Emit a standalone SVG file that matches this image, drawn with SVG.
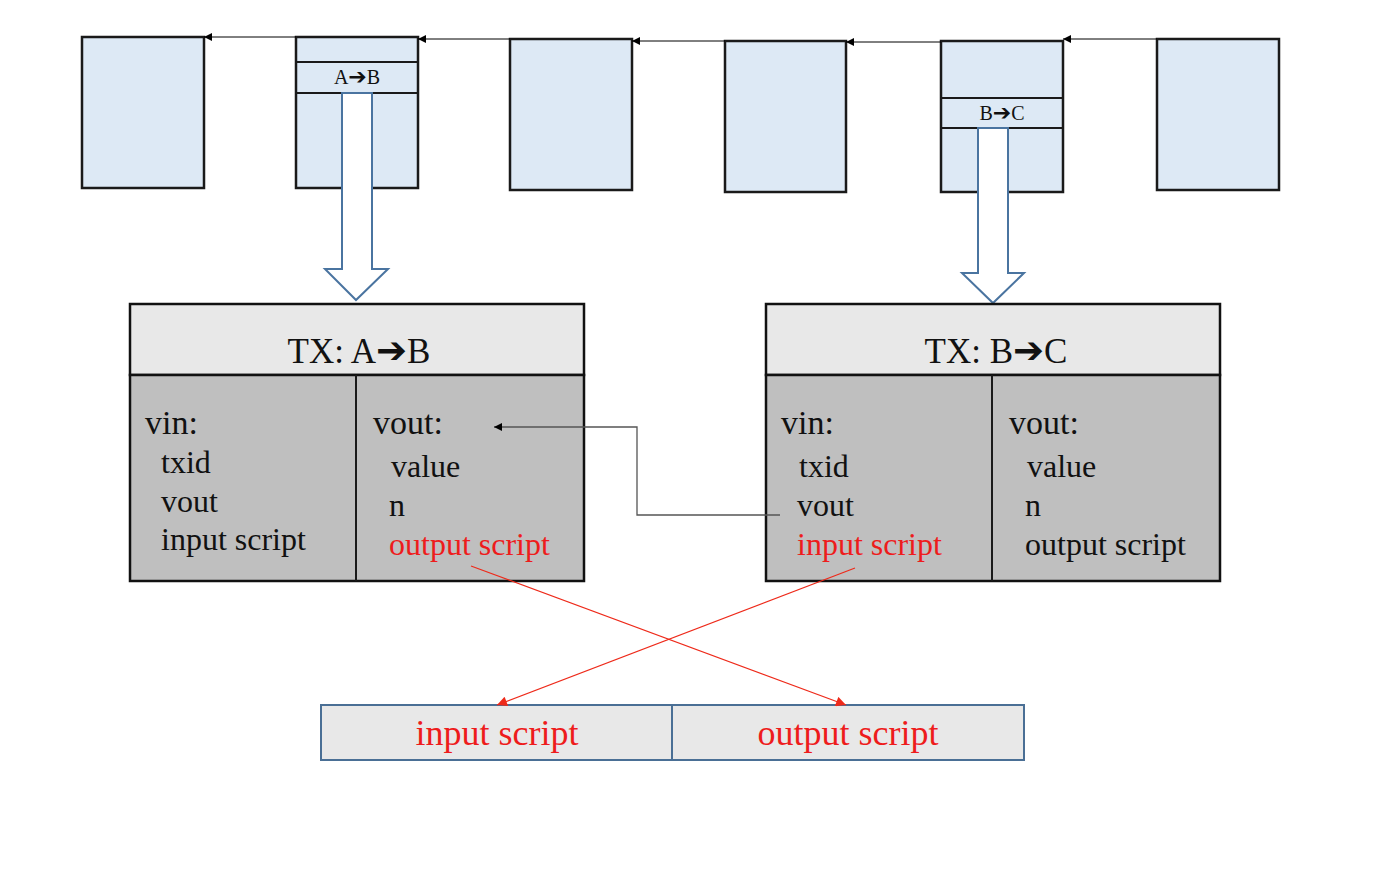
<svg xmlns="http://www.w3.org/2000/svg" width="1399" height="882" viewBox="0 0 1399 882">
<style>
.blk{fill:#dde9f5;stroke:#1a1a1a;stroke-width:2.5}
.sep{stroke:#1a1a1a;stroke-width:2}
.t{font-family:"Liberation Serif","Times New Roman",serif;fill:#111}
.ar{font-family:"DejaVu Sans",sans-serif;font-weight:bold}
.hdr{fill:#e8e8e8;stroke:#111;stroke-width:2.5}
.body{fill:#bfbfbf;stroke:#111;stroke-width:2.5}
.red{fill:#ee1c1c}
.big{fill:#fff;stroke:#4a74a0;stroke-width:2}
.bot{fill:#e8e8e8;stroke:#4a6f95;stroke-width:2}
.con{fill:none;stroke:#000;stroke-width:1}
.rcon{fill:none;stroke:#ee2a1a;stroke-width:1.2}
</style>
<defs>
<marker id="ah" viewBox="0 0 10 10" refX="10" refY="5" markerWidth="10" markerHeight="8" markerUnits="userSpaceOnUse" orient="auto">
<path d="M0,0 L10,5 L0,10 z" fill="#000"/>
</marker>
<marker id="rh" viewBox="0 0 10 10" refX="10" refY="5" markerWidth="12" markerHeight="10" markerUnits="userSpaceOnUse" orient="auto">
<path d="M0,0 L10,5 L0,10 z" fill="#ee2a1a"/>
</marker>
</defs>

<g id="block1"><rect class="blk" x="82" y="37" width="122" height="151"/></g>
<g id="block2">
<rect class="blk" x="296" y="37" width="122" height="151"/>
<line class="sep" x1="296" y1="62" x2="418" y2="62"/>
<line class="sep" x1="296" y1="93" x2="418" y2="93"/>
<text class="t" x="357" y="84" font-size="20" text-anchor="middle">A<tspan class="ar" font-size="22">➔</tspan>B</text>
</g>
<g id="block3"><rect class="blk" x="510" y="39" width="122" height="151"/></g>
<g id="block4"><rect class="blk" x="725" y="41" width="121" height="151"/></g>
<g id="block5">
<rect class="blk" x="941" y="41" width="122" height="151"/>
<line class="sep" x1="941" y1="98" x2="1063" y2="98"/>
<line class="sep" x1="941" y1="128" x2="1063" y2="128"/>
<text class="t" x="1002" y="120" font-size="20" text-anchor="middle">B<tspan class="ar" font-size="22">➔</tspan>C</text>
</g>
<g id="block6"><rect class="blk" x="1157" y="39" width="122" height="151"/></g>

<g id="bigarrows">
<path class="big" d="M342,93 L372,93 L372,269 L388,269 L356,300 L325,269 L342,269 Z"/>
<path class="big" d="M978,128 L1008,128 L1008,273 L1024,273 L993,303 L962,273 L978,273 Z"/>
</g>

<g id="txAB">
<rect class="hdr" x="130" y="304" width="454" height="71"/>
<rect class="body" x="130" y="375" width="454" height="206"/>
<line class="sep" x1="356" y1="375" x2="356" y2="581"/>
<text class="t" x="359" y="363" font-size="35" text-anchor="middle">TX: A<tspan class="ar" font-size="37">➔</tspan>B</text>
<text class="t" x="145" y="434" font-size="34">vin:</text>
<text class="t" x="161" y="473" font-size="32">txid</text>
<text class="t" x="161" y="512" font-size="32">vout</text>
<text class="t" x="161" y="550" font-size="32">input script</text>
<text class="t" x="373" y="434" font-size="34">vout:</text>
<text class="t" x="391" y="477" font-size="32">value</text>
<text class="t" x="389" y="516" font-size="32">n</text>
<text class="t red" x="389" y="555" font-size="32">output script</text>
</g>

<g id="txBC">
<rect class="hdr" x="766" y="304" width="454" height="71"/>
<rect class="body" x="766" y="375" width="454" height="206"/>
<line class="sep" x1="992" y1="375" x2="992" y2="581"/>
<text class="t" x="996" y="363" font-size="35" text-anchor="middle">TX: B<tspan class="ar" font-size="37">➔</tspan>C</text>
<text class="t" x="781" y="434" font-size="34">vin:</text>
<text class="t" x="799" y="477" font-size="32">txid</text>
<text class="t" x="797" y="516" font-size="32">vout</text>
<text class="t red" x="797" y="555" font-size="32">input script</text>
<text class="t" x="1009" y="434" font-size="34">vout:</text>
<text class="t" x="1027" y="477" font-size="32">value</text>
<text class="t" x="1025" y="516" font-size="32">n</text>
<text class="t" x="1025" y="555" font-size="32">output script</text>
</g>

<g id="scripts">
<rect class="bot" x="321" y="705" width="351" height="55"/>
<rect class="bot" x="672" y="705" width="352" height="55"/>
<text class="t red" x="497" y="745" font-size="36" text-anchor="middle">input script</text>
<text class="t red" x="848" y="745" font-size="36" text-anchor="middle">output script</text>
</g>

<g id="connectors">
<line class="con" x1="296" y1="37" x2="204" y2="37" marker-end="url(#ah)"/>
<line class="con" x1="510" y1="39" x2="418" y2="39" marker-end="url(#ah)"/>
<line class="con" x1="725" y1="41" x2="632" y2="41" marker-end="url(#ah)"/>
<line class="con" x1="941" y1="42" x2="846" y2="42" marker-end="url(#ah)"/>
<line class="con" x1="1157" y1="39" x2="1063" y2="39" marker-end="url(#ah)"/>
<polyline class="con" style="stroke:#555;stroke-width:1.3" points="780,515 637,515 637,427 494,427" marker-end="url(#ah)"/>
<line class="rcon" x1="471" y1="566" x2="846" y2="705" marker-end="url(#rh)"/>
<line class="rcon" x1="855" y1="568" x2="497" y2="705" marker-end="url(#rh)"/>
</g>
</svg>
